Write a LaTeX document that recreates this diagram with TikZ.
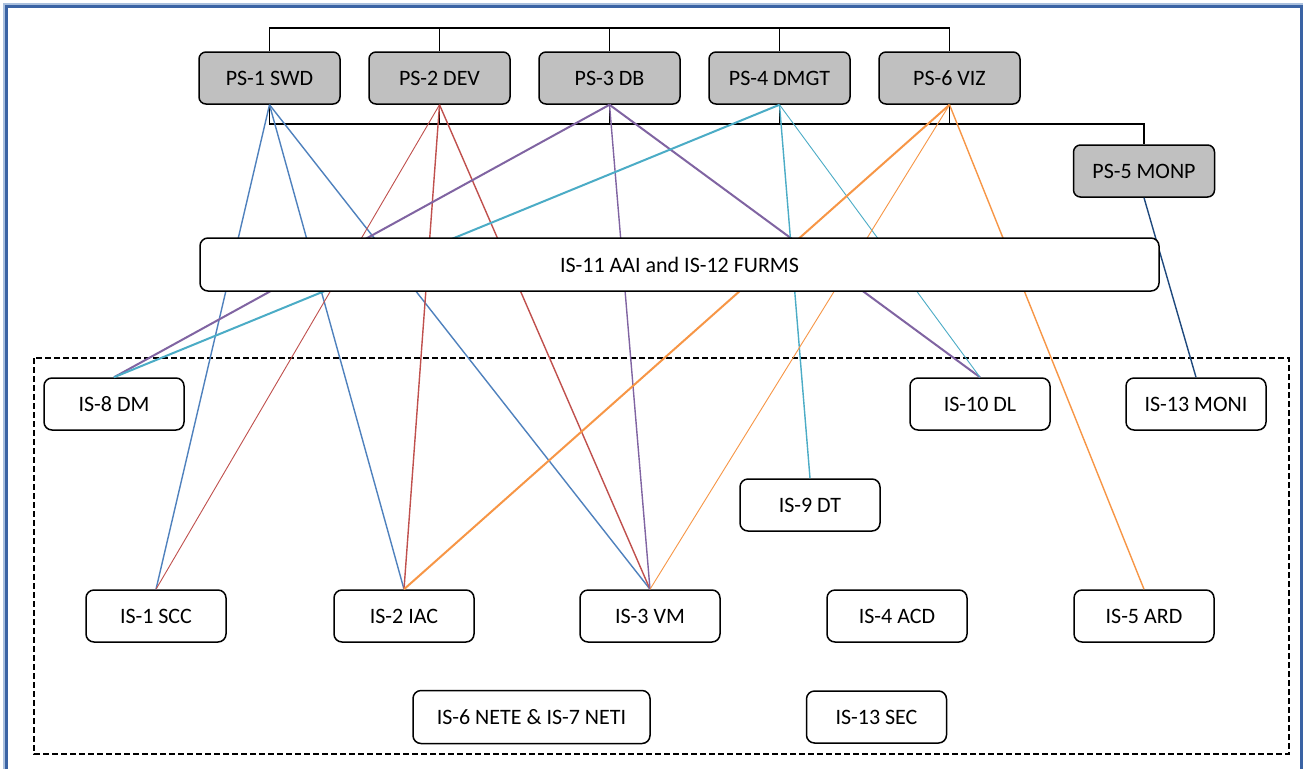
\documentclass[tikz,border=0pt]{standalone}
\usepackage{fontspec}
\setmainfont{Carlito}
\definecolor{frameblue}{RGB}{58,99,164}
\definecolor{framelight}{RGB}{170,192,222}
\definecolor{psgray}{RGB}{192,192,192}
\definecolor{lnblue}{RGB}{79,129,189}
\definecolor{lnred}{RGB}{192,80,77}
\definecolor{lnpurple}{RGB}{128,100,162}
\definecolor{lncyan}{RGB}{75,172,198}
\definecolor{lnorange}{RGB}{247,150,70}
\definecolor{lnnavy}{RGB}{31,73,125}
\tikzset{
  lbl/.style={font=\fontsize{22}{26}\selectfont, inner sep=0pt, line width=1.5pt, draw=black},
  psbox/.style={lbl, fill=psgray, rounded corners=7pt, minimum width=141pt, minimum height=52pt},
  isbox/.style={lbl, fill=white, rounded corners=8pt, minimum width=140pt, minimum height=52pt},
  bus/.style={line width=1.5pt, black},
  thinln/.style={line width=0.9pt},
  midln/.style={line width=1.4pt},
  thickln/.style={line width=2pt},
}
\begin{document}
\begin{tikzpicture}[x=1pt,y=-1pt]
\useasboundingbox (0,0) rectangle (1303,769);
\fill[white] (0,0) rectangle (1303,769);

% outer page frame, open at the bottom
\draw[framelight, line width=1.2pt] (4,769) -- (4,4) -- (1303,4);
\draw[frameblue, line width=3pt] (6.5,769) -- (6.5,6.5) -- (1301.5,6.5) -- (1301.5,769);

% dashed group of infrastructure services
\draw[line width=1.5pt, dash pattern=on 6pt off 3pt] (34,358) rectangle (1289,754);

% platform services
\node[psbox] (ps1) at (269.5,78) {PS-1 SWD};
\node[psbox] (ps2) at (439.5,78) {PS-2 DEV};
\node[psbox] (ps3) at (609.5,78) {PS-3 DB};
\node[psbox] (ps4) at (779.5,78) {PS-4 DMGT};
\node[psbox] (ps6) at (949.5,78) {PS-6 VIZ};
\node[psbox] (ps5) at (1144,171) {PS-5 MONP};

% infrastructure services
\node[isbox] (is8)  at (114,404) {IS-8 DM};
\node[isbox] (is10) at (980,404) {IS-10 DL};
\node[isbox] (is13) at (1196,404) {IS-13 MONI};
\node[isbox] (is9)  at (810,505) {IS-9 DT};
\node[isbox] (is1)  at (156,616) {IS-1 SCC};
\node[isbox] (is2)  at (404,616) {IS-2 IAC};
\node[isbox] (is3)  at (650,616) {IS-3 VM};
\node[isbox] (is4)  at (897,616) {IS-4 ACD};
\node[isbox] (is5)  at (1144,616) {IS-5 ARD};
\node[isbox, minimum width=237pt, minimum height=53pt] (is6) at (531.5,717) {IS-6 NETE \& IS-7 NETI};
\node[isbox] (is13s) at (876.5,717) {IS-13 SEC};

% bus lines joining the platform services
\coordinate (topy) at (0,28);
\coordinate (boty) at (0,124);
\draw[bus] (ps1.north) -- (ps1.north |- topy) -| (ps6.north);
\foreach \p in {ps2,ps3,ps4} \draw[bus] (\p.north) -- (\p.north |- topy);
\draw[bus] (ps1.south) -- (ps1.south |- boty) -| (ps5.north);
\foreach \p in {ps2,ps3,ps4,ps6} \draw[bus] (\p.south) -- (\p.south |- boty);

% dependencies of each platform service
\draw[lnblue, midln] (ps1.south) -- (is1.north);
\draw[lnblue, midln] (ps1.south) -- (is2.north);
\draw[lnblue, midln] (ps1.south) -- (is3.north);

\draw[lnred, thinln] (ps2.south) -- (is1.north);
\draw[lnred, midln] (ps2.south) -- (is2.north);
\draw[lnred, midln] (ps2.south) -- (is3.north);

\draw[lnpurple, thickln] (ps3.south) -- (is8.north);
\draw[lnpurple, midln] (ps3.south) -- (is3.north);
\draw[lnpurple, thickln] (ps3.south) -- (is10.north);

\draw[lncyan, thickln] (ps4.south) -- (is8.north);
\draw[lncyan, midln] (ps4.south) -- (is9.north);
\draw[lncyan, thinln] (ps4.south) -- (is10.north);

\draw[lnorange, thickln] (ps6.south) -- (is2.north);
\draw[lnorange, thinln] (ps6.south) -- (is3.north);
\draw[lnorange, midln] (ps6.south) -- (is5.north);

\draw[lnnavy, midln] (ps5.south) -- (is13.north);

% common services bar, drawn over the dependency lines
\node[lbl, fill=white, rounded corners=8pt, minimum width=959pt, minimum height=53pt] (is11) at (679.5,264.5) {IS-11 AAI and IS-12 FURMS};
\end{tikzpicture}
\end{document}
